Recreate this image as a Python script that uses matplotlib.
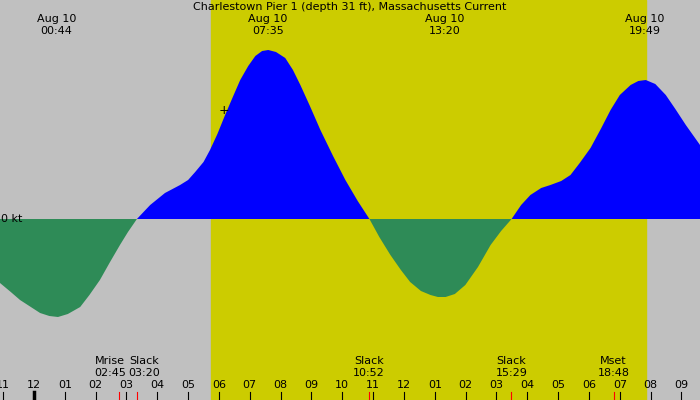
import matplotlib
matplotlib.use("Agg")
import matplotlib.pyplot as plt
import numpy as np

# hours since midnight Aug 10, current in kt
hours = [-1.1, -0.75, -0.45, -0.1, 0.2, 0.5, 0.78, 1.1, 1.5, 1.8, 2.14, 2.45, 2.79,
         3.05, 3.34, 3.77, 4.25, 4.74, 5.0, 5.23, 5.5, 5.71, 5.95,
         6.2, 6.45, 6.69, 6.95, 7.18, 7.4, 7.6, 7.85, 8.15, 8.4, 8.64, 8.95, 9.29,
         9.7, 10.1, 10.5, 10.88, 11.2, 11.56, 11.9, 12.2, 12.55, 12.86, 13.1,
         13.35, 13.65, 13.99, 14.4, 14.81, 15.15, 15.49, 15.8, 16.1, 16.45, 16.75,
         17.1, 17.4, 17.7, 18.05, 18.4, 18.7, 19.0, 19.35, 19.6, 19.84, 20.15,
         20.49, 20.8, 21.14, 21.6]
current = [-0.64, -0.73, -0.81, -0.88, -0.94, -0.97, -0.98, -0.95, -0.88, -0.76,
           -0.61, -0.44, -0.26, -0.13, 0.0, 0.14, 0.26, 0.34, 0.39, 0.47, 0.57,
           0.69, 0.85, 1.04, 1.22, 1.39, 1.53, 1.63, 1.68, 1.69, 1.67, 1.61, 1.49,
           1.34, 1.13, 0.89, 0.63, 0.39, 0.18, 0.0, -0.18, -0.36, -0.51, -0.63,
           -0.72, -0.76, -0.78, -0.78, -0.75, -0.66, -0.48, -0.26, -0.12, 0.0,
           0.14, 0.24, 0.31, 0.34, 0.38, 0.44, 0.56, 0.71, 0.91, 1.09, 1.24, 1.34,
           1.38, 1.39, 1.35, 1.24, 1.1, 0.94, 0.74]

peak_hours = [0.73, 7.58, 13.33, 19.82]
peak_labels = ["00:44", "07:35", "13:20", "19:49"]
sun_rise, sun_set = 5.75, 19.84
event_hours = [2.75, 3.33, 10.87, 15.48, 18.8]
event_names = ["Mrise", "Slack", "Slack", "Slack", "Mset"]
event_times = ["02:45", "03:20", "10:52", "15:29", "18:48"]
tick_hours = list(range(-1, 22))

fig = plt.figure(figsize=(7, 4), dpi=100, facecolor="#c0c0c0")
ax = fig.add_axes([0, 0, 1, 1])
ax.set_xlim(-1.1, 21.6)
ax.set_ylim(-1.81, 2.19)
ax.axis("off")

ax.axvspan(sun_rise, sun_set, color="#cccc00", zorder=0)
h = np.array(hours)
c = np.array(current)
ax.fill_between(h, c, 0, where=c >= 0, color="#0000ff", interpolate=True, zorder=2, lw=0)
ax.fill_between(h, c, 0, where=c <= 0, color="#2e8b57", interpolate=True, zorder=2, lw=0)
ax.text(-1.1 + 0.03, 0, "0 kt", fontsize=8, va="center", ha="left", zorder=3)
ax.text(6.15, 1.08, "+", fontsize=9, ha="center", va="center", zorder=3)

ax.text(0.5, 0.995, "Charlestown Pier 1 (depth 31 ft), Massachusetts Current",
        transform=ax.transAxes, ha="center", va="top", fontsize=8)
for ph, pl in zip(peak_hours, peak_labels):
    ax.text(ph, 2.19 - 0.19, "Aug 10", ha="center", va="center", fontsize=8)
    ax.text(ph, 2.19 - 0.31, pl, ha="center", va="center", fontsize=8)

for th in tick_hours:
    lab = "%02d" % (th % 12 if th % 12 else 12)
    ax.text(th, -1.81 + 0.15, lab, ha="center", va="center", fontsize=8)
    ax.plot([th, th], [-1.81, -1.81 + 0.08], color="black",
            lw=2.5 if th == 0 else 0.8, zorder=3)
shifts = [-0.28, 0.25, 0, 0, 0]
for eh, en, et, s in zip(event_hours, event_names, event_times, shifts):
    ax.plot([eh, eh], [-1.81, -1.81 + 0.08], color="red", lw=0.8, zorder=4)
    ax.text(eh + s, -1.81 + 0.39, en, ha="center", va="center", fontsize=8)
    ax.text(eh + s, -1.81 + 0.27, et, ha="center", va="center", fontsize=8)

fig.savefig("out.png", dpi=100, facecolor=fig.get_facecolor())
